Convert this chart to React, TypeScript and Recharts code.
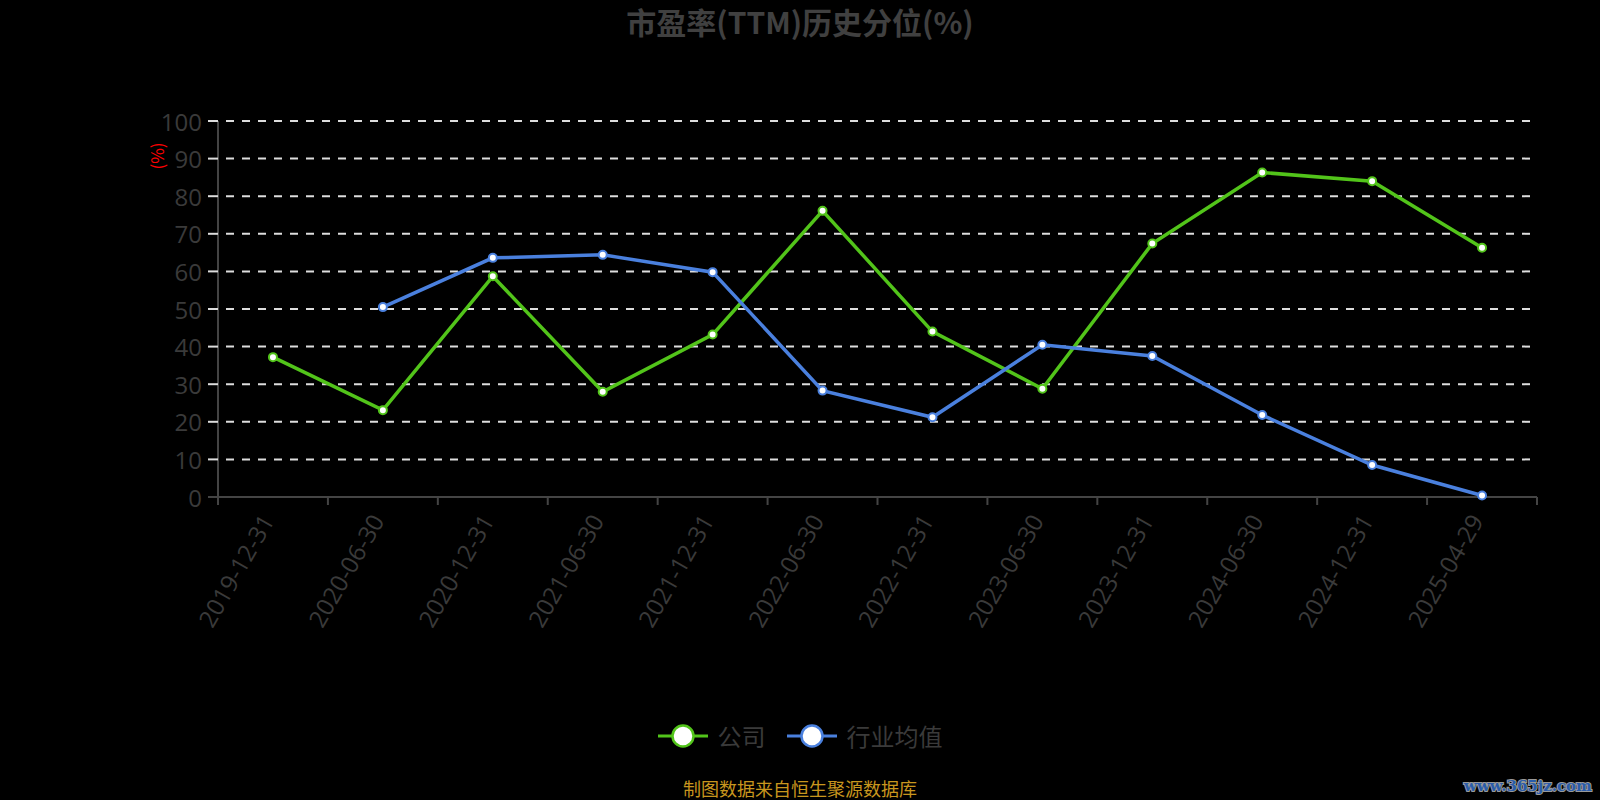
import React from "react";
import { LineChart, Line, XAxis, YAxis, CartesianGrid } from "recharts";

const categories = [
  "2019-12-31",
  "2020-06-30",
  "2020-12-31",
  "2021-06-30",
  "2021-12-31",
  "2022-06-30",
  "2022-12-31",
  "2023-06-30",
  "2023-12-31",
  "2024-06-30",
  "2024-12-31",
  "2025-04-29",
];
const companyValues: (number | null)[] = [37.2, 23.1, 58.7, 28.0, 43.2, 76.1, 44.0, 28.8, 67.4, 86.3, 84.0, 66.3];
const industryValues: (number | null)[] = [null, 50.5, 63.6, 64.4, 59.8, 28.3, 21.2, 40.5, 37.5, 21.8, 8.5, 0.4];
const yTicks = [0, 10, 20, 30, 40, 50, 60, 70, 80, 90, 100];
const seriesNames = ["公司", "行业均值"];
const seriesColors = ["#52c41a", "#4a80de"];
const titleText = "市盈率(TTM)历史分位(%)";
const unitText = "(%)";
const sourceText = "制图数据来自恒生聚源数据库";
const watermarkText = "www.365jz.com";

const data = categories.map((c, i) => ({
  idx: i,
  date: c,
  company: companyValues[i],
  industry: industryValues[i],
}));

const xTicks: number[] = [];
categories.forEach((_, i) => {
  xTicks.push(i - 0.5);
  xTicks.push(i);
});
xTicks.push(categories.length - 0.5);

const XTick = (props: any) => {
  const { x, y, payload } = props;
  const v = payload.value;
  if (!Number.isInteger(v)) {
    return <line x1={x} x2={x} y1={y - 8} y2={y} stroke="#444" strokeWidth={2} />;
  }
  const label = categories[v];
  const ax = x - 6;
  const ay = y + 11;
  return (
    <text
      x={ax}
      y={ay}
      textAnchor="end"
      dominantBaseline="central"
      transform={`rotate(-60 ${ax} ${ay})`}
      fill="#3a3a3a"
      fontSize={24}
      fontFamily="'Open Sans', sans-serif"
    >
      {label}
    </text>
  );
};

const YTick = (props: any) => {
  const { x, y, payload } = props;
  const v = payload.value;
  return (
    <g>
      <line x1={x + 6} x2={x + 16} y1={y} y2={y} stroke={v === 0 ? "#444" : "#ddd"} strokeWidth={2} />
      <text
        x={x}
        y={y}
        textAnchor="end"
        dominantBaseline="central"
        fill="#3a3a3a"
        fontSize={24}
        fontFamily="'Open Sans', sans-serif"
      >
        {v}
      </text>
    </g>
  );
};

export default function App() {
  return (
    <div style={{ position: "absolute", left: 0, top: 0, width: 1600, height: 800, background: "#000", overflow: "hidden" }}>
      <LineChart
        width={1600}
        height={800}
        data={data}
        margin={{ top: 121, right: 63, bottom: 153, left: 0 }}
      >
        <CartesianGrid
          horizontal={true}
          vertical={false}
          stroke="#dddddd"
          strokeWidth={2}
          strokeDasharray="8 8"
          strokeDashoffset={8}
        />
        <XAxis
          dataKey="idx"
          type="number"
          domain={[-0.5, categories.length - 0.5]}
          ticks={xTicks}
          interval={0}
          allowDecimals={true}
          height={150}
          tickSize={8}
          tickMargin={0}
          tickLine={false}
          axisLine={{ stroke: "#444", strokeWidth: 2 }}
          tick={<XTick />}
        />
        <YAxis
          domain={[0, 100]}
          ticks={yTicks}
          interval={0}
          width={218}
          tickSize={10}
          tickMargin={6}
          tickLine={false}
          axisLine={{ stroke: "#444", strokeWidth: 2 }}
          tick={<YTick />}
        />
        <Line
          type="linear"
          dataKey="company"
          name={seriesNames[0]}
          stroke={seriesColors[0]}
          strokeWidth={3.5}
          dot={{ r: 4, fill: "#fff", stroke: seriesColors[0], strokeWidth: 2 }}
          isAnimationActive={false}
        />
        <Line
          type="linear"
          dataKey="industry"
          name={seriesNames[1]}
          stroke={seriesColors[1]}
          strokeWidth={3.5}
          dot={{ r: 4, fill: "#fff", stroke: seriesColors[1], strokeWidth: 2 }}
          isAnimationActive={false}
        />
      </LineChart>
      <svg width={1600} height={800} style={{ position: "absolute", left: 0, top: 0, pointerEvents: "none" }}>
        <text
          x={800}
          y={21}
          textAnchor="middle"
          dominantBaseline="central"
          fontSize={30}
          fontWeight="bold"
          fill="#404040"
          fontFamily="'Noto Sans CJK SC', sans-serif"
        >
          {titleText}
        </text>
        <text
          x={156}
          y={156}
          textAnchor="middle"
          dominantBaseline="central"
          transform="rotate(-90 156 156)"
          fontSize={17}
          fill="#ff0000"
          fontFamily="'Noto Sans CJK SC', sans-serif"
        >
          {unitText}
        </text>
        <text
          x={800}
          y={788}
          textAnchor="middle"
          dominantBaseline="central"
          fontSize={18}
          fill="#c8961e"
          fontFamily="'Noto Sans CJK SC', sans-serif"
        >
          {sourceText}
        </text>
        <text
          x={1592}
          y={786}
          textAnchor="end"
          dominantBaseline="central"
          fontSize={15}
          fontWeight="bold"
          fill="#2a5caa"
          stroke="#999"
          strokeWidth={2}
          paintOrder="stroke"
          fontFamily="'DejaVu Serif', serif"
        >
          {watermarkText}
        </text>
      </svg>
      <div
        style={{
          position: "absolute",
          left: 0,
          top: 736 - 16,
          width: 1600,
          height: 32,
          display: "flex",
          justifyContent: "center",
          alignItems: "center",
          gap: 21,
        }}
      >
        {seriesNames.map((name, i) => (
          <div key={name} style={{ display: "flex", alignItems: "center", gap: 10 }}>
            <svg width={50} height={28}>
              <line x1={0} x2={50} y1={14} y2={14} stroke={seriesColors[i]} strokeWidth={3} />
              <circle cx={25} cy={14} r={10.5} fill="#fff" stroke={seriesColors[i]} strokeWidth={2.5} />
            </svg>
            <span
              style={{
                fontSize: 24,
                color: "#3a3a3a",
                fontFamily: "'Noto Sans CJK SC', sans-serif",
                lineHeight: "32px",
              }}
            >
              {name}
            </span>
          </div>
        ))}
      </div>
    </div>
  );
}
